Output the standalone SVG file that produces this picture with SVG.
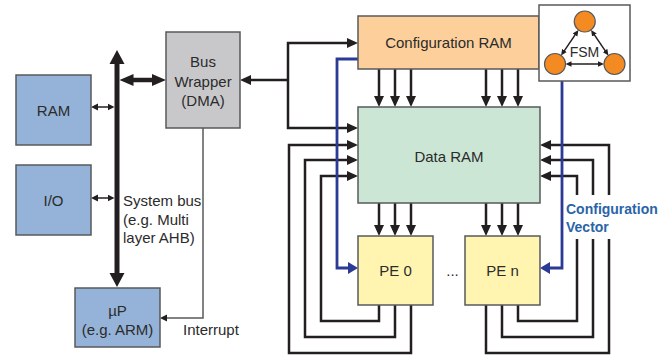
<svg xmlns="http://www.w3.org/2000/svg" width="668" height="357" viewBox="0 0 668 357">
<style>
.box{stroke:#58595b;stroke-width:1.5}
.blue{fill:#95b3d8}
.t{font-family:"Liberation Sans",Arial,sans-serif;font-size:15px;fill:#2b2b2b;text-anchor:middle}
.tl{font-family:"Liberation Sans",Arial,sans-serif;font-size:15px;fill:#2b2b2b}
.cv{font-family:"Liberation Sans",Arial,sans-serif;font-size:14px;font-weight:bold;fill:#2a64a8}
.ln{fill:none;stroke:#231f20;stroke-width:2.5}
.thin{fill:none;stroke:#231f20;stroke-width:1.5}
.bl{fill:none;stroke:#2b3a94;stroke-width:2.8}
.circ{fill:#f38a22;stroke:#58595b;stroke-width:1.2}
</style>
<defs>
<marker id="a" viewBox="0 -6 12 12" markerWidth="12" markerHeight="12" refX="1" refY="0" orient="auto-start-reverse" markerUnits="userSpaceOnUse"><path d="M0,-5 L11,0 L0,5 z" fill="#231f20"/></marker>
<marker id="s" viewBox="0 -4 8 8" markerWidth="8" markerHeight="8" refX="1" refY="0" orient="auto-start-reverse" markerUnits="userSpaceOnUse"><path d="M0,-3.5 L7,0 L0,3.5 z" fill="#231f20"/></marker>
<marker id="f" viewBox="0 -3 7 6" markerWidth="7" markerHeight="6" refX="1" refY="0" orient="auto-start-reverse" markerUnits="userSpaceOnUse"><path d="M0,-2.8 L6,0 L0,2.8 z" fill="#231f20"/></marker>
<marker id="b" viewBox="0 -8 15 16" markerWidth="15" markerHeight="16" refX="1" refY="0" orient="auto-start-reverse" markerUnits="userSpaceOnUse"><path d="M0,-7.5 L14,0 L0,7.5 z" fill="#231f20"/></marker>
<marker id="b2" viewBox="0 -7 15 14" markerWidth="15" markerHeight="14" refX="1" refY="0" orient="auto-start-reverse" markerUnits="userSpaceOnUse"><path d="M0,-6 L14,0 L0,6 z" fill="#231f20"/></marker>
<marker id="bm" viewBox="0 -7 11 14" markerWidth="11" markerHeight="14" refX="1" refY="0" orient="auto" markerUnits="userSpaceOnUse"><path d="M0,-6 L10,0 L0,6 z" fill="#2b3a94"/></marker>
</defs>

<g id="connectors">
<!-- system bus -->
<path d="M117,63 V274" fill="none" stroke="#231f20" stroke-width="5" marker-start="url(#b)" marker-end="url(#b)"/>
<path d="M132.5,80 H153" fill="none" stroke="#231f20" stroke-width="4.5" marker-start="url(#b2)" marker-end="url(#b2)"/>
<path class="thin" d="M97,107 H108.5" marker-start="url(#s)" marker-end="url(#s)"/>
<path class="thin" d="M97,198 H108.5" marker-start="url(#s)" marker-end="url(#s)"/>
<!-- interrupt -->
<path d="M203,128 V318 H166" fill="none" stroke="#58595b" stroke-width="1.5" marker-end="url(#s)"/>
<!-- bus wrapper to config/data RAM -->
<path class="ln" d="M288,80 H250" marker-end="url(#a)"/>
<path class="ln" d="M348,43 H288 V128 H348" marker-start="url(#a)" marker-end="url(#a)"/>
<!-- config RAM to data RAM -->
<path class="ln" d="M379,69 V97" marker-end="url(#a)"/>
<path class="ln" d="M395,69 V97" marker-end="url(#a)"/>
<path class="ln" d="M411,69 V97" marker-end="url(#a)"/>
<path class="ln" d="M486,69 V97" marker-end="url(#a)"/>
<path class="ln" d="M502,69 V97" marker-end="url(#a)"/>
<path class="ln" d="M518,69 V97" marker-end="url(#a)"/>
<!-- data RAM to PEs -->
<path class="ln" d="M379,203 V226" marker-end="url(#a)"/>
<path class="ln" d="M395,203 V226" marker-end="url(#a)"/>
<path class="ln" d="M411,203 V226" marker-end="url(#a)"/>
<path class="ln" d="M486,203 V226" marker-end="url(#a)"/>
<path class="ln" d="M502,203 V226" marker-end="url(#a)"/>
<path class="ln" d="M518,203 V226" marker-end="url(#a)"/>
<!-- PE0 feedback loops -->
<path class="ln" d="M411,305 V353 H289 V145 H348" marker-end="url(#a)"/>
<path class="ln" d="M395,305 V337 H305 V160 H348" marker-end="url(#a)"/>
<path class="ln" d="M379,305 V321 H321 V176 H348" marker-end="url(#a)"/>
<!-- PE n feedback loops -->
<path class="ln" d="M486,305 V353 H609 V239"/>
<path class="ln" d="M609,195 V145 H550" marker-end="url(#a)"/>
<path class="ln" d="M502,305 V337 H593 V239"/>
<path class="ln" d="M593,195 V160 H550" marker-end="url(#a)"/>
<path class="ln" d="M518,305 V321 H577 V239"/>
<path class="ln" d="M577,195 V176 H550" marker-end="url(#a)"/>
<!-- configuration vector -->
<path class="bl" d="M358,59 H337 V268 H349" marker-end="url(#bm)"/>
<path class="bl" d="M562,81 V268 H549" marker-end="url(#bm)"/>
</g>

<g id="ram">
<rect class="box blue" x="16" y="75" width="75" height="70"/>
<text class="t" x="53.5" y="116">RAM</text>
</g>
<g id="io">
<rect class="box blue" x="16" y="165" width="75" height="70"/>
<text class="t" x="53.5" y="206">I/O</text>
</g>
<g id="up">
<rect class="box blue" x="75" y="288" width="85" height="59"/>
<text class="t" x="117.5" y="316">µP</text>
<text class="t" x="117.5" y="335">(e.g. ARM)</text>
</g>
<g id="bus-label">
<text class="tl" x="123" y="206">System bus</text>
<text class="tl" x="123" y="224.5">(e.g. Multi</text>
<text class="tl" x="123" y="243">layer AHB)</text>
</g>
<g id="interrupt-label">
<text class="tl" x="183" y="335">Interrupt</text>
</g>
<g id="bus-wrapper">
<rect class="box" fill="#c8c8ca" x="166" y="32" width="74" height="96"/>
<text class="t" x="203" y="67">Bus</text>
<text class="t" x="203" y="87">Wrapper</text>
<text class="t" x="203" y="106">(DMA)</text>
</g>
<g id="config-ram">
<rect class="box" fill="#fdd09b" x="358" y="16" width="181" height="53"/>
<text class="t" x="448.5" y="48">Configuration RAM</text>
</g>
<g id="fsm">
<rect class="box" fill="#fff" x="539" y="5" width="91" height="76"/>
<circle class="circ" cx="584.75" cy="21.5" r="10.5"/>
<circle class="circ" cx="555" cy="64" r="10.5"/>
<circle class="circ" cx="614.5" cy="64" r="10.5"/>
<path class="thin" stroke-width="1.2" d="M575.6,34.2 L563.9,51.3" marker-start="url(#f)" marker-end="url(#f)"/>
<path class="thin" stroke-width="1.2" d="M593.9,34.2 L605.6,51.3" marker-start="url(#f)" marker-end="url(#f)"/>
<path class="thin" stroke-width="1.2" d="M570.5,64 H599" marker-start="url(#f)" marker-end="url(#f)"/>
<text class="t" x="584.5" y="57" style="font-size:14px">FSM</text>
</g>
<g id="data-ram">
<rect class="box" fill="#cbe6d5" x="358" y="107" width="182" height="96"/>
<text class="t" x="449" y="162">Data RAM</text>
</g>
<g id="pe0">
<rect class="box" fill="#fff5b1" x="358" y="236" width="75" height="69"/>
<text class="t" x="395.5" y="276">PE 0</text>
</g>
<g id="dots">
<text class="t" x="452.5" y="276">...</text>
</g>
<g id="pen">
<rect class="box" fill="#fff5b1" x="465" y="236" width="75" height="69"/>
<text class="t" x="502.5" y="276">PE n</text>
</g>
<g id="config-vector-label">
<text class="cv" x="566" y="214">Configuration</text>
<text class="cv" x="566" y="232">Vector</text>
</g>
</svg>
